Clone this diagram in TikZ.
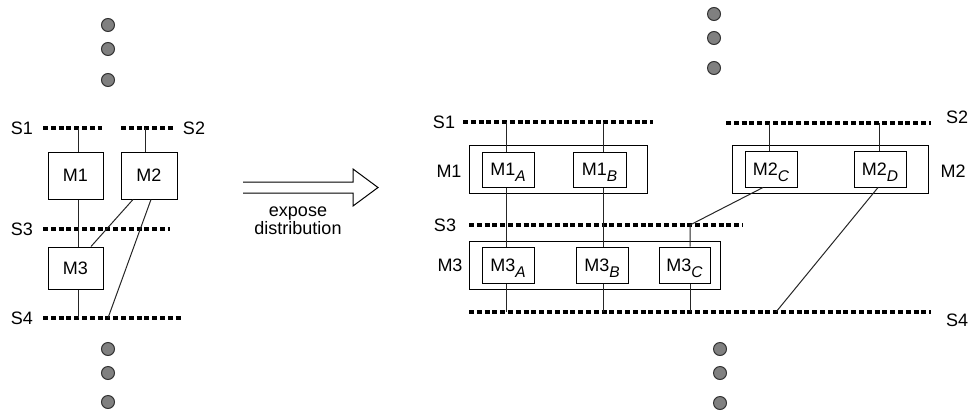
\documentclass[tikz,border=0pt]{standalone}
\usepackage{fontspec}
\setmainfont{Liberation Sans}
% italic, lowered subscript used in the module names
\newcommand\subit[1]{\raisebox{-6pt}{\fontsize{15.5}{16}\selectfont\itshape #1}}
\begin{document}
\begin{tikzpicture}[x=1pt,y=-1pt,
  every node/.style={font=\fontsize{18}{16.5}\selectfont},
  sync/.style={line width=3.3pt, dash pattern=on 5pt off 2.8pt},
  wire/.style={line width=1pt, draw=black!85},
  mod/.style={draw, line width=1pt, inner sep=0pt, text height=12.9pt, text depth=0pt},
  outer/.style={draw, line width=1pt, inner sep=0pt, minimum height=48pt},
  dot/.style={circle, draw=black!80, fill=black!50, line width=1pt, minimum size=13pt, inner sep=0pt},
  lbl/.style={inner sep=0pt}]
\useasboundingbox (0,0) rectangle (971,410);

% ---------- left: original schedule ----------
\node[dot] (ld1) at (108,25) {};
\node[dot] (ld2) at (108,49) {};
\node[dot] (ld3) at (108,80) {};
\node[dot] (ld4) at (108,349) {};
\node[dot] (ld5) at (108,373) {};
\node[dot] (ld6) at (108,402) {};

\coordinate (ls1l) at (43,128);  \coordinate (ls1r) at (102,128);
\coordinate (ls2l) at (121,128); \coordinate (ls2r) at (173,128);
\coordinate (ls3l) at (43,229);  \coordinate (ls3r) at (170,229);
\coordinate (ls4l) at (43,318);  \coordinate (ls4r) at (183,318);
\draw[sync] (ls1l) -- (ls1r);
\draw[sync] (ls2l) -- (ls2r);
\draw[sync] (ls3l) -- (ls3r);
\draw[sync] (ls4l) -- (ls4r);
\node[lbl] (lS1) at (22,128) {S1};
\node[lbl] (lS2) at (194,128) {S2};
\node[lbl] (lS3) at (22,229) {S3};
\node[lbl] (lS4) at (22,318) {S4};

\node[mod, minimum width=55pt, minimum height=47pt] (lm1) at (75.5,175.5) {M1};
\node[mod, minimum width=56pt, minimum height=47pt] (lm2) at (149,175.5) {M2};
\node[mod, minimum width=55pt, minimum height=42pt] (lm3) at (75.5,268) {M3};

\coordinate (ls1m) at (78,128);
\coordinate (ls2m) at (145,128);
\coordinate (ls4m) at (78,318);
\coordinate (ls4x) at (108,318);
\draw[wire] (ls1m) -- (ls1m |- lm1.north);
\draw[wire] (ls1m |- lm1.south) -- (ls1m |- lm3.north);
\draw[wire] (ls1m |- lm3.south) -- (ls4m);
\draw[wire] (ls2m) -- (ls2m |- lm2.north);
\draw[wire] ([xshift=-16pt]lm2.south) -- ([xshift=15.5pt]lm3.north);
\draw[wire] ([xshift=2pt]lm2.south) -- (ls4x);

% ---------- transformation arrow ----------
\draw[line width=1pt] (243,182) -- (353,182) -- (353,169) -- (378,187.5)
  -- (353,206) -- (353,193) -- (243,193);
\node[lbl, align=center] (expose) at (298,221) {expose\\distribution};

% ---------- right: distributed schedule ----------
\node[dot] (rd1) at (714,14) {};
\node[dot] (rd2) at (714,38) {};
\node[dot] (rd3) at (714,68) {};
\node[dot] (rd4) at (720,349) {};
\node[dot] (rd5) at (720,373) {};
\node[dot] (rd6) at (720,403) {};

\coordinate (s1l) at (463,122); \coordinate (s1r) at (653,122);
\coordinate (s2l) at (726,123); \coordinate (s2r) at (931,123);
\coordinate (s3l) at (469,225); \coordinate (s3r) at (743,225);
\coordinate (s4l) at (469,312); \coordinate (s4r) at (931,312);
\draw[sync] (s1l) -- (s1r);
\draw[sync] (s2l) -- (s2r);
\draw[sync] (s3l) -- (s3r);
\draw[sync] (s4l) -- (s4r);
\node[lbl] (rS1) at (444,122) {S1};
\node[lbl] (rS2) at (957,117) {S2};
\node[lbl] (rS3) at (445,225) {S3};
\node[lbl] (rS4) at (957,320) {S4};

\node[outer, minimum width=178pt] (om1) at (558,169) {};
\node[outer, minimum width=196pt] (om2) at (830,169) {};
\node[outer, minimum width=251pt] (om3) at (594.5,265) {};
\node[lbl] (rM1) at (449,171) {M1};
\node[lbl] (rM2) at (953,171) {M2};
\node[lbl] (rM3) at (450,265) {M3};

\node[mod, minimum width=52pt, minimum height=35pt] (m1a) at (508,169.5) {M1\subit{A}};
\node[mod, minimum width=53pt, minimum height=35pt] (m1b) at (599.5,169.5) {M1\subit{B}};
\node[mod, minimum width=52pt, minimum height=36pt] (m2c) at (771,169) {M2\subit{C}};
\node[mod, minimum width=52pt, minimum height=36pt] (m2d) at (880,169) {M2\subit{D}};
\node[mod, minimum width=52pt, minimum height=36pt] (m3a) at (508,265) {M3\subit{A}};
\node[mod, minimum width=52pt, minimum height=36pt] (m3b) at (602,265) {M3\subit{B}};
\node[mod, minimum width=51pt, minimum height=36pt] (m3c) at (684.5,265) {M3\subit{C}};

\coordinate (s1a) at (506,122); \coordinate (s1b) at (603,122);
\coordinate (s2c) at (769,123); \coordinate (s2d) at (879,123);
\coordinate (s3e) at (690,225);
\coordinate (s4a) at (506,312); \coordinate (s4b) at (603,312);
\coordinate (s4e) at (690,312); \coordinate (s4f) at (776,312);

\draw[wire] (s1a) -- (s1a |- m1a.north);
\draw[wire] (s1a |- m1a.south) -- (s1a |- m3a.north);
\draw[wire] (s1a |- m3a.south) -- (s4a);
\draw[wire] (s1b) -- (s1b |- m1b.north);
\draw[wire] (s1b |- m1b.south) -- (s1b |- m3b.north);
\draw[wire] (s1b |- m3b.south) -- (s4b);
\draw[wire] (s2c) -- (s2c |- m2c.north);
\draw[wire] (s2d) -- (s2d |- m2d.north);
\draw[wire] ([xshift=-8pt]m2c.south) -- (s3e) -- (s3e |- m3c.north);
\draw[wire] (s3e |- m3c.south) -- (s4e);
\draw[wire] ([xshift=-2pt]m2d.south) -- (s4f);
\end{tikzpicture}
\end{document}
